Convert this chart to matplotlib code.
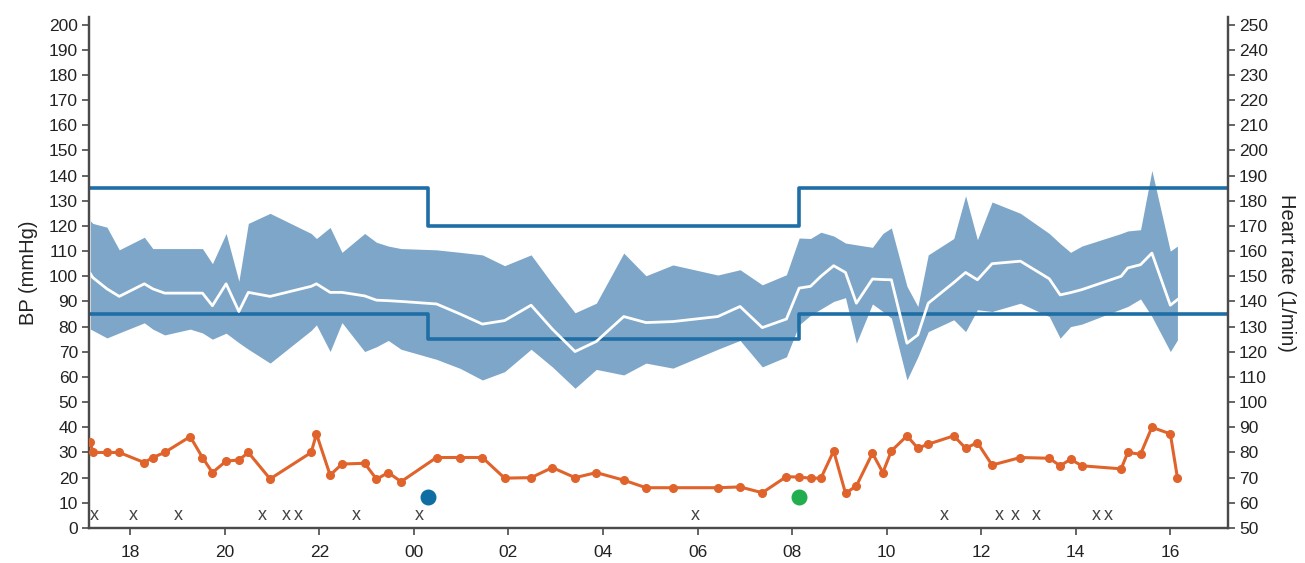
import numpy as np
import matplotlib
matplotlib.use("Agg")
import matplotlib.pyplot as plt

plt.rcParams['font.family'] = ['Liberation Sans', 'DejaVu Sans']

# measurement times in hours (24 = midnight, 40 = 16:00 next day)
times = [17.16, 17.21, 17.51, 17.77, 18.30, 18.48, 18.73, 19.27, 19.53, 19.74,
         20.03, 20.30, 20.50, 20.96, 21.83, 21.94, 22.23, 22.48, 22.96, 23.21,
         23.46, 23.73, 24.48, 24.98, 25.45, 25.92, 26.48, 26.93, 27.41, 27.86,
         28.44, 28.91, 29.48, 30.43, 30.90, 31.37, 31.88, 32.15, 32.39, 32.61,
         32.88, 33.13, 33.36, 33.70, 33.92, 34.10, 34.43, 34.66, 34.88, 35.42,
         35.67, 35.92, 36.23, 36.83, 37.44, 37.67, 37.89, 38.13, 38.96, 39.10,
         39.37, 39.61, 40.00, 40.15]
systolic = [122, 121, 119.5, 110.5, 115.5, 111, 111, 111, 111, 105,
            117, 98, 121, 125, 117, 115, 119.4, 109.5, 117, 113.5,
            112, 111, 110.5, 109.5, 108.5, 104.2, 108.5, 97, 85.5, 89.3,
            109.2, 100.2, 104.5, 100.5, 102.6, 96.6, 100.6, 115.2, 115, 117.5,
            116, 113.2, 112.5, 111.5, 117, 119.2, 96, 88, 108.5, 115,
            132, 114.5, 129.5, 125, 117, 113, 109.5, 112, 117, 118,
            118.5, 142, 110, 112]
mean_bp = [101, 99.5, 95, 92, 97, 95, 93.3, 93.3, 93.3, 88.3,
           97, 86, 93.6, 92, 96, 97, 93.6, 93.6, 92.2, 90.5,
           90.3, 90, 89, 85, 81, 82.4, 88.5, 79, 70.1, 74.1,
           84, 81.6, 82, 84, 88, 79.6, 83, 95.3, 96, 100,
           104.2, 101.5, 89.3, 98.9, 98.7, 98.6, 73.4, 76.7, 89.3, 97.5,
           101.5, 98.6, 105, 106, 99, 92.6, 93.5, 94.7, 100, 103.3,
           104.6, 109.2, 88.5, 90.7]
diastolic = [79, 78.5, 75.5, 77.5, 81.5, 79, 76.7, 79, 77.5, 75,
             77.4, 73.6, 71, 65.5, 78.5, 80.7, 70.1, 81.6, 70.1, 72,
             74.5, 71, 67, 63.4, 58.8, 62.1, 71, 64, 55.5, 63,
             60.8, 65.5, 63.5, 71, 74.5, 64, 68, 80.7, 84.5, 87,
             90, 91.5, 73.4, 89, 86, 83.4, 58.8, 68, 78, 82.7,
             78, 86.7, 86, 89.3, 84, 75.4, 80, 81, 87, 88,
             91, 84, 70.1, 74.7]
heart_rate = [84, 80, 80, 80, 76, 78, 80, 86.3, 78, 72,
              76.6, 77, 80, 69.5, 80, 87.4, 71, 75.4, 75.7, 69.4,
              72, 68.4, 78, 78, 78, 69.8, 70, 74, 70, 72,
              69, 66, 66, 66, 66.3, 64, 70.4, 70.2, 69.8, 69.8,
              80.6, 63.8, 66.7, 79.7, 72, 80.6, 86.6, 81.7, 83.3, 86.6,
              81.7, 83.9, 75, 78, 77.7, 74.7, 77.3, 74.7, 73.5, 80,
              79.3, 90, 87.4, 70]

# day / night threshold limits
limit_times = [17.13, 24.31, 32.15, 41.22]
limit_sys = [135, 120, 135, 135]
limit_dia = [85, 75, 85, 85]

sleep_time, wake_time = 24.31, 32.15
event_level = 12.5
x_marks = [17.24, 18.06, 19.01, 20.80, 21.31, 21.56, 22.78, 24.11, 29.96,
           35.22, 36.38, 36.72, 37.16, 38.44, 38.69]

hour_ticks = list(range(18, 41, 2))
hour_labels = ["%02d" % (h % 24) for h in hour_ticks]

fig = plt.figure(figsize=(13.05, 5.63), dpi=100)
ax = fig.add_axes([0.0682, 0.0622, 0.8728, 0.9076])
ax2 = ax.twinx()

band_col = "#7ea6c8"
line_col = "#1f6ea5"
hr_col = "#e0632b"
axis_col = "#4a4a4a"
text_col = "#222222"

ax.fill_between(times, diastolic, systolic, color=band_col, lw=0, zorder=1)
ax.step(limit_times, limit_sys, where='post', color=line_col, lw=2.6, zorder=2)
ax.step(limit_times, limit_dia, where='post', color=line_col, lw=2.6, zorder=2)
ax.plot(times, mean_bp, color="white", lw=2, zorder=3)

ax.scatter([sleep_time], [event_level], s=110, color="#0e6ea3", zorder=4)
ax.scatter([wake_time], [event_level], s=110, color="#22ad4f", zorder=4)
for t in x_marks:
    ax.text(t, 5, "x", ha="center", va="center", fontsize=13, color="#444444")

ax2.plot(times, heart_rate, color=hr_col, lw=2.2, marker="o", ms=5.5, zorder=5)

ax.set_xlim(17.13, 41.22)
ax.set_ylim(0, 203)
ax2.set_ylim(50, 253)
ax.set_yticks(range(0, 201, 10))
ax2.set_yticks(range(50, 251, 10))
ax.set_xticks(hour_ticks)
ax.set_xticklabels(hour_labels)

for a in (ax, ax2):
    a.spines['top'].set_visible(False)
    for s in ('left', 'right', 'bottom'):
        a.spines[s].set_color(axis_col)
        a.spines[s].set_linewidth(1.6)
    a.tick_params(colors=axis_col, labelcolor=text_col, labelsize=12.5,
                  length=5, width=1.2, direction='out', pad=3)
ax.tick_params(axis='x', pad=7)

ax.set_ylabel("BP (mmHg)", fontsize=14.5, color=text_col, labelpad=8)
ax2.set_ylabel("Heart rate (1/min)", fontsize=14.5, color=text_col,
               rotation=270, labelpad=20)

fig.savefig("out.png", dpi=100)
